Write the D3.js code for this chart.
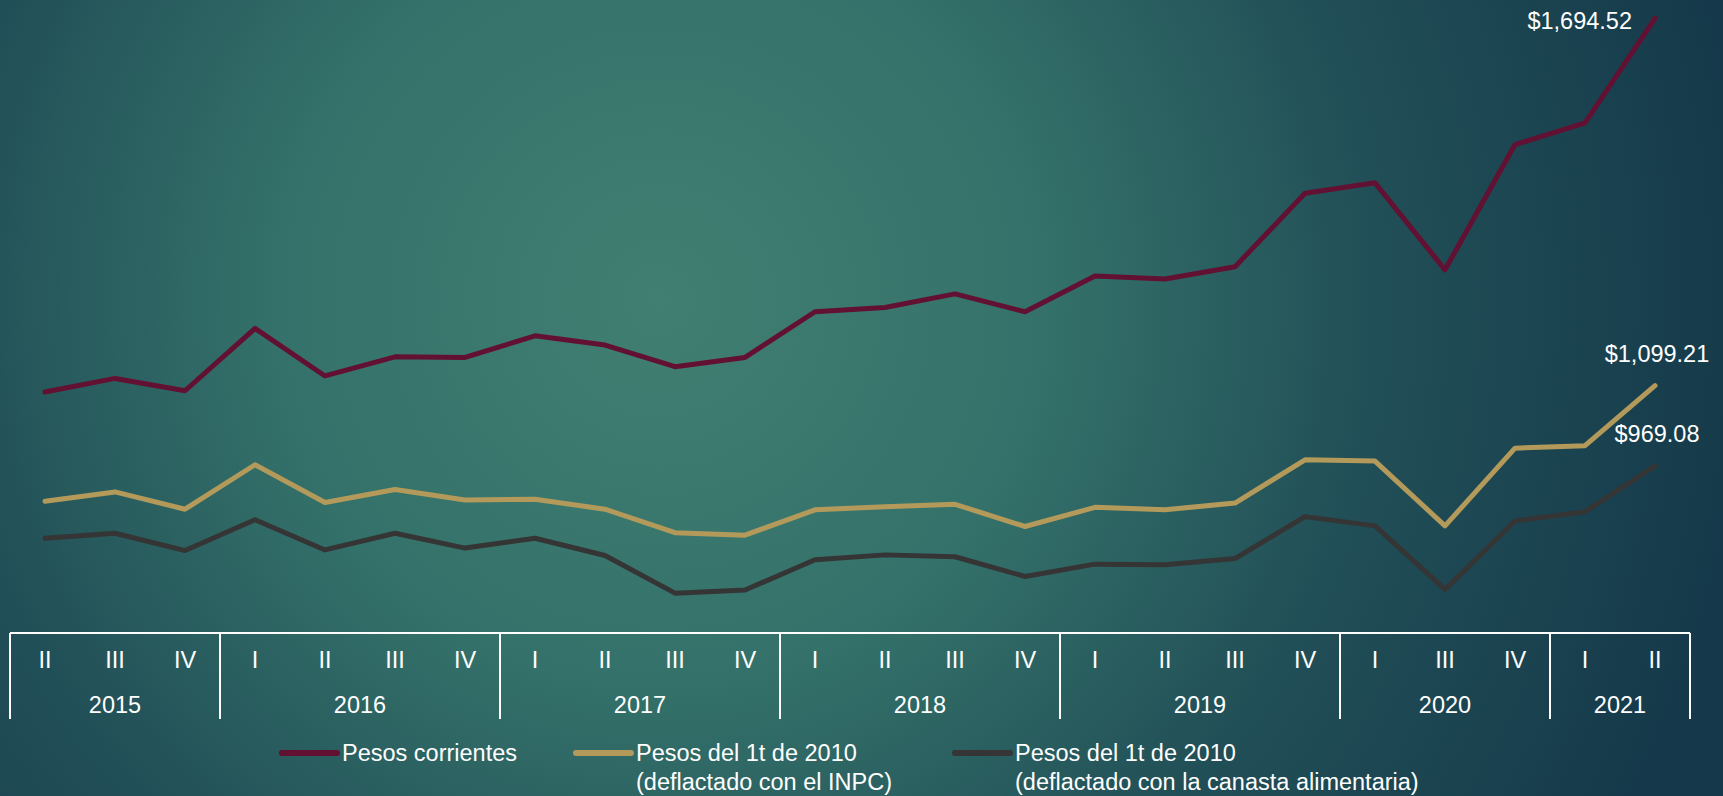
<!DOCTYPE html>
<html>

<head>
  <meta charset="utf-8">
  <title>Ingreso laboral</title>
  <style>
    body { margin: 0; overflow: hidden; }
    text { font-family: "Liberation Sans", Arial, sans-serif; fill: #ffffff; }
  </style>
</head>

<body>
  <svg width="1723" height="796"></svg>
  <script src="https://d3js.org/d3.v7.min.js"></script>
  <script>
    // quarters shown on the axis, grouped by year
    var years = ["2015", "2016", "2017", "2018", "2019", "2020", "2021"];
    var quarters = [
      ["II", "III", "IV"],
      ["I", "II", "III", "IV"],
      ["I", "II", "III", "IV"],
      ["I", "II", "III", "IV"],
      ["I", "II", "III", "IV"],
      ["I", "III", "IV"],
      ["I", "II"]
    ];

    var corrientes = [1089, 1111, 1091, 1192, 1115, 1146, 1145, 1180, 1165, 1130, 1145, 1219,
      1226, 1248, 1219, 1277, 1272, 1292, 1411, 1428, 1287, 1490, 1525, 1694.52];
    var inpc = [912, 927, 899, 971, 910, 931, 914, 915, 899, 861, 857, 898,
      903, 907, 871, 902, 898, 909, 979, 977, 872, 998, 1002, 1099.21];
    var canasta = [852, 860, 832, 882, 833, 860, 836, 852, 824, 763, 768, 817,
      825, 822, 790, 810, 809, 819, 887, 872, 769, 880, 895, 969.08];

    var seriesNames = ["Pesos corrientes", "Pesos del 1t de 2010|(deflactado con el INPC)",
      "Pesos del 1t de 2010|(deflactado con la canasta alimentaria)"];
    var colors = ["#621132", "#b39a5a", "#353535"];

    var svg = d3.select("svg");

    // background
    var defs = svg.append("defs");
    var grad = defs.append("radialGradient")
      .attr("id", "bg")
      .attr("gradientUnits", "userSpaceOnUse")
      .attr("cx", 660).attr("cy", 300).attr("r", 1100);
    grad.append("stop").attr("offset", 0).attr("stop-color", "#417f72");
    grad.append("stop").attr("offset", 0.35).attr("stop-color", "#34716a");
    grad.append("stop").attr("offset", 0.65).attr("stop-color", "#214f57");
    grad.append("stop").attr("offset", 1).attr("stop-color", "#15394a");
    svg.append("rect").attr("width", 1723).attr("height", 796).attr("fill", "url(#bg)");

    // categories: one key per quarter
    var cats = [];
    years.forEach((y, i) => quarters[i].forEach(q => cats.push({ key: y + "-" + q, year: y, q: q })));

    var xScale = d3.scaleBand().domain(cats.map(d => d.key)).range([10, 1690]);
    var yScale = d3.scaleLinear().domain([700, 1700]).range([632, 15]);
    var cx = k => xScale(k) + xScale.bandwidth() / 2;

    // axis: quarter labels
    var axisTop = 633;
    var axis = svg.append("g")
      .attr("transform", "translate(0," + axisTop + ")")
      .call(d3.axisBottom(xScale).tickSize(0).tickPadding(0).tickFormat(k => k.split("-")[1]));
    axis.select(".domain").remove();
    axis.selectAll("text")
      .attr("y", 27).attr("dy", "0.35em")
      .style("font-size", "23.5px")
      .attr("fill", "#ffffff")
      .style("font-family", "'Liberation Sans', Arial, sans-serif");

    svg.append("line")
      .attr("x1", xScale.range()[0]).attr("x2", xScale.range()[1])
      .attr("y1", axisTop).attr("y2", axisTop)
      .attr("stroke", "#ffffff").attr("stroke-width", 2);

    // year groups
    var edges = [];
    years.forEach((y, i) => {
      var first = y + "-" + quarters[i][0];
      var last = y + "-" + quarters[i][quarters[i].length - 1];
      var x0 = xScale(first), x1 = xScale(last) + xScale.bandwidth();
      edges.push(x0);
      if (i == years.length - 1) edges.push(x1);
      svg.append("text")
        .attr("x", (x0 + x1) / 2).attr("y", 705).attr("dy", "0.35em")
        .attr("text-anchor", "middle")
        .style("font-size", "23.5px")
        .text(y);
    });
    svg.selectAll(".sep").data(edges).enter().append("line")
      .attr("x1", d => d).attr("x2", d => d)
      .attr("y1", axisTop).attr("y2", 719)
      .attr("stroke", "#ffffff").attr("stroke-width", 2);

    // lines
    [corrientes, inpc, canasta].forEach((vals, i) => {
      var line = d3.line()
        .x((d, j) => cx(cats[j].key))
        .y(d => yScale(d));
      svg.append("path")
        .attr("d", line(vals))
        .attr("fill", "none")
        .attr("stroke", colors[i])
        .attr("stroke-width", 5)
        .attr("stroke-linejoin", "round")
        .attr("stroke-linecap", "round");
    });

    // end labels
    var fmt = v => "$" + d3.format(",.2f")(v);
    var lastKey = cats[cats.length - 1].key;
    svg.append("text")
      .attr("x", cx(lastKey) - 23).attr("y", yScale(corrientes[corrientes.length - 1]) + 2)
      .attr("dy", "0.35em").attr("text-anchor", "end")
      .style("font-size", "23.5px")
      .text(fmt(corrientes[corrientes.length - 1]));
    [inpc, canasta].forEach(vals => {
      svg.append("text")
        .attr("x", cx(lastKey) + 2).attr("y", yScale(vals[vals.length - 1]) - 24)
        .attr("text-anchor", "middle")
        .style("font-size", "23.5px")
        .text(fmt(vals[vals.length - 1]));
    });

    // legend
    var legendX = [282, 576, 955];
    seriesNames.forEach((name, i) => {
      var g = svg.append("g").attr("transform", "translate(" + legendX[i] + ",753)");
      g.append("line")
        .attr("x1", 0).attr("x2", 55)
        .attr("stroke", colors[i]).attr("stroke-width", 6)
        .attr("stroke-linecap", "round");
      name.split("|").forEach((t, j) => {
        g.append("text")
          .attr("x", 60).attr("y", j * 28.5).attr("dy", "0.35em")
          .style("font-size", "23.5px")
          .text(t);
      });
    });
  </script>

</body>

</html>
